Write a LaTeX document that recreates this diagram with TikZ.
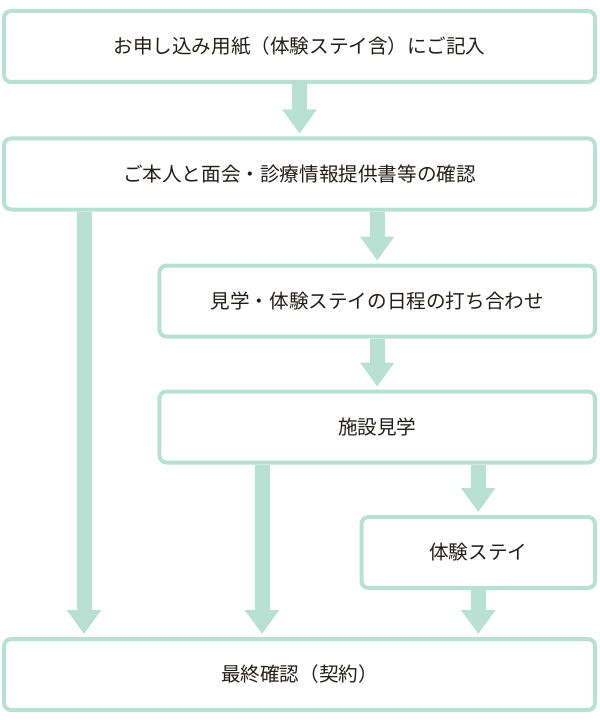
\documentclass[tikz,border=0pt]{standalone}
\usepackage{fontspec}
\setmainfont{Noto Sans CJK JP}
\usepackage{tikz}
\usetikzlibrary{arrows.meta}
\usetikzlibrary{positioning}
\definecolor{mint}{RGB}{184,225,212}
\definecolor{ink}{RGB}{35,30,28}

\begin{document}
\begin{tikzpicture}[x=1bp,y=-1bp,
	box/.style={draw=mint,line width=4bp,rounded corners=7bp,fill=white,minimum height=71bp,inner sep=0pt,text=ink,font=\fontsize{19.6bp}{23bp}\selectfont},
	flow/.style={draw=mint,line width=15bp,-{Triangle[width=33bp,length=24bp]},shorten >=3bp}]
	\useasboundingbox (0,0) rectangle (600,720);

	% steps
	\node[box,minimum width=591bp] (apply) at (299.5,46.5) {お申し込み用紙（体験ステイ含）にご記入};
	\node[box,minimum width=591bp] (meet) at (299.5,174) {ご本人と面会・診療情報提供書等の確認};
	\node[box,minimum width=435.5bp] (plan) at (377.25,301) {見学・体験ステイの日程の打ち合わせ};
	\node[box,minimum width=435.5bp] (visit) at (377.25,427) {施設見学};
	\node[box,minimum width=233.5bp] (stay) at (478.25,552.5) {体験ステイ};
	\node[box,minimum width=591bp] (final) at (299.5,674.5) {最終確認（契約）};

	\coordinate (lcol) at (84,0);
	\coordinate (mcol) at (262,0);

	\draw[flow] (apply) -- (meet);
	\draw[flow] (meet.south -| plan) -- (plan.north);
	\draw[flow] (plan) -- (visit);
	\draw[flow] (visit.south -| stay) -- (stay.north);
	\draw[flow] (stay) -- (final.north -| stay);
	\draw[flow] (meet.south -| lcol) -- (final.north -| lcol);
	\draw[flow] (visit.south -| mcol) -- (final.north -| mcol);
\end{tikzpicture}
\end{document}
